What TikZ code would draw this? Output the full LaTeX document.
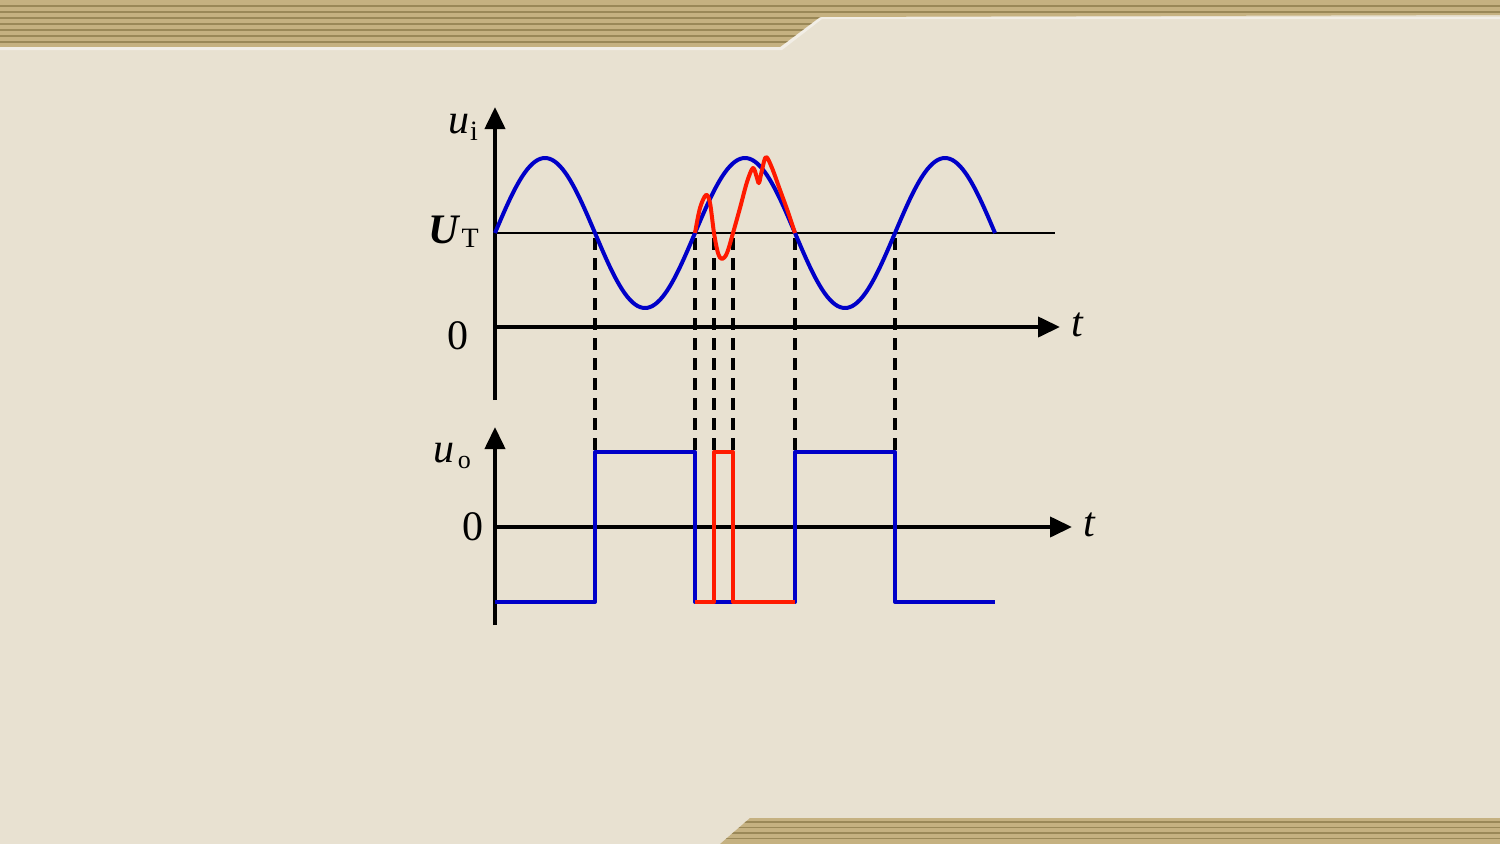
\documentclass[tikz,border=0pt]{standalone}
\usepackage{fontspec}
\setmainfont{Liberation Serif}
\usetikzlibrary{arrows.meta}
\definecolor{bgc}{HTML}{E8E1D1}
\definecolor{bandc}{HTML}{C5B181}
\definecolor{bandl}{HTML}{9A8858}
\definecolor{wblue}{HTML}{0000C8}
\definecolor{wred}{HTML}{FF1A00}
\tikzset{
  axis/.style={line width=4pt,-{Triangle[length=22pt,width=20pt]}},
  axisplain/.style={line width=4pt},
  blueline/.style={wblue,line width=4pt,line join=round},
  redline/.style={wred,line width=4pt,line join=round},
  dashline/.style={black,line width=3.5pt,dash pattern=on 12pt off 8pt},
  lbl/.style={font=\fontsize{42}{48}\selectfont,inner sep=0pt},
}
\begin{document}
\begin{tikzpicture}[x=1pt,y=-1pt]
\useasboundingbox (0,0) rectangle (1500,844);
\fill[bgc] (0,0) rectangle (1500,844);
% top band
\fill[white!45!bgc] (0,47) -- (780,47) -- (820,17) -- (1500,17) -- (1500,19) -- (822,19) -- (782,50) -- (0,50) -- cycle;
\begin{scope}
\clip (0,0) -- (1500,0) -- (1500,15) -- (820,17) -- (780,47) -- (0,47) -- cycle;
\fill[bandc] (0,0) rectangle (1500,47);
\foreach \yy in {6,12,18,24,30,36,42} \draw[bandl,line width=1.3pt] (0,\yy) -- (1500,\yy);
\end{scope}
% bottom band
\begin{scope}
\clip (720,844) -- (750,818) -- (1500,818) -- (1500,844) -- cycle;
\fill[bandc] (700,818) rectangle (1500,844);
\foreach \yy in {822,827.5,833,838.5} \draw[bandl,line width=1.3pt] (700,\yy) -- (1500,\yy);
\end{scope}
% upper plot
\draw[line width=2pt] (495,233) -- (1055,233);
\foreach \xx in {595,695,714,733,795,895} \draw[dashline] (\xx,238) -- (\xx,452);
\draw[axisplain] (495,400) -- (495,120);
\draw[axis] (495,140) -- (495,107);
\draw[axis] (495,327) -- (1060,327);
\draw[blueline] plot[domain=0:500,samples=201,smooth] ({495+\x},{233-75*sin(1.8*\x)});
\draw[redline] plot[smooth,tension=0.55] coordinates {(695,233) (700,208) (706,195) (710,203) (714,233) (718,253) (722,259) (727,253) (733,233) (740,208) (747,182) (753,168) (757,178) (759,183) (762,170) (766,157) (772,168) (780,190) (788,212) (795,233)};
\node[lbl,anchor=base east] (ui) at (478,133) {\textit{u}\kern1pt\raisebox{-7pt}{\fontsize{28}{30}\selectfont i}};
\node[lbl,anchor=base east] (ut) at (479,243) {\textbf{\textit{U}}\kern1pt\raisebox{-4pt}{\fontsize{28}{30}\selectfont T}};
\node[lbl,anchor=base] (z1) at (458,349) {0};
\node[lbl,anchor=base] (t1) at (1078,336) {\textit{t}};
% lower plot
\draw[axisplain] (495,625) -- (495,440);
\draw[axis] (495,460) -- (495,427);
\draw[axis] (495,527) -- (1072,527);
\draw[blueline] (495,602) -- (595,602) -- (595,452) -- (695,452) -- (695,602) -- (795,602) -- (795,452) -- (895,452) -- (895,602) -- (995,602);
\draw[redline] (695,602) -- (714,602) -- (714,452) -- (733,452) -- (733,602) -- (795,602);
\node[lbl,anchor=base east] (uo) at (471,462) {\textit{u}\kern3pt\raisebox{-6pt}{\fontsize{26}{30}\selectfont o}};
\node[lbl,anchor=base] (z2) at (473,540) {0};
\node[lbl,anchor=base] (t2) at (1090,536) {\textit{t}};
\end{tikzpicture}
\end{document}
